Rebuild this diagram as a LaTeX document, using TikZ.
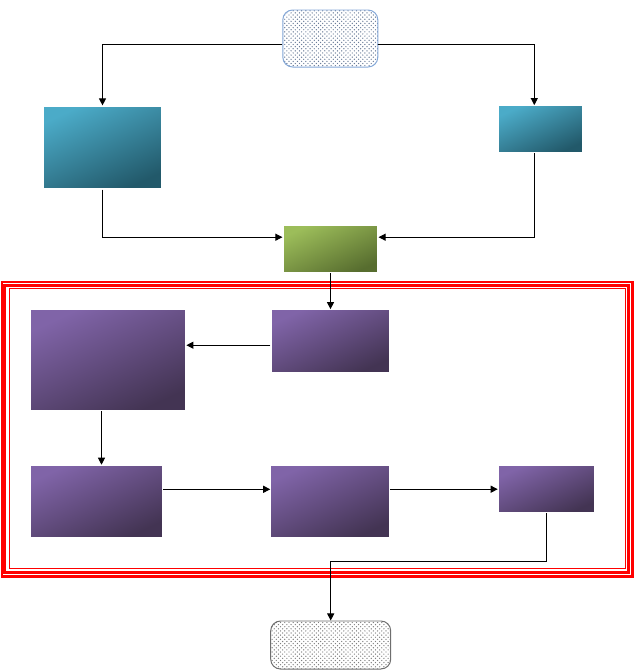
\documentclass[tikz,border=0pt]{standalone}
\usepackage[HTML]{xcolor}
\usepackage{tikz}
\usetikzlibrary{positioning, arrows.meta, patterns}

\definecolor{tealA}{HTML}{4BABC8}
\definecolor{tealB}{HTML}{22596A}
\definecolor{greenA}{HTML}{9CBD5A}
\definecolor{greenB}{HTML}{576D2F}
\definecolor{purpA}{HTML}{8064A8}
\definecolor{purpB}{HTML}{433453}
\definecolor{startline}{HTML}{84A8D8}
\definecolor{startdots}{HTML}{6A7C98}
\definecolor{endline}{HTML}{6E6E6E}

\begin{document}
\begin{tikzpicture}[x=0.025cm, y=-0.025cm,
  box/.style={draw=white, line width=0.8pt, inner sep=0pt},
  tealbox/.style={box, top color=tealA, bottom color=tealB, shading angle=25},
  greenbox/.style={box, top color=greenA, bottom color=greenB, shading angle=25},
  purplebox/.style={box, top color=purpA, bottom color=purpB, shading angle=25},
  termbox/.style={rounded corners=7pt, line width=0.7pt, inner sep=0pt,
    pattern=crosshatch dots},
  arr/.style={-{Triangle[length=5pt, width=5pt]}, line width=0.7pt},
  link/.style={line width=0.7pt}]
\useasboundingbox (0,0) rectangle (634,671);

% Start and end
\node[termbox, draw=startline, pattern color=startdots,
  minimum width=2.375cm, minimum height=1.425cm] (start) at (330.3,38.5) {};
\node[termbox, draw=endline, pattern color=gray,
  minimum width=3cm, minimum height=1.2cm] (finish) at (330.7,645) {};

% Upper boxes
\node[tealbox, minimum width=2.975cm, minimum height=2.075cm] (boxA) at (102.5,147.5) {};
\node[tealbox, minimum width=2.1cm, minimum height=1.175cm] (boxB) at (540.3,129.2) {};
\node[greenbox, minimum width=2.375cm, minimum height=1.175cm] (boxC) at (330.5,249.2) {};

% Frame
\draw[red, line width=1.5pt] (2,281.8) rectangle (632.5,576.5);
\draw[red, line width=2pt] (4.8,285.2) rectangle (628.2,572.2);
\draw[red, line width=0.9pt] (9.2,288.8) rectangle (625.2,568.8);

% Boxes inside the frame
\node[purplebox, minimum width=2.975cm, minimum height=1.575cm] (boxD) at (330.5,341.2) {};
\node[purplebox, minimum width=3.875cm, minimum height=2.525cm] (boxE) at (108.3,360.2) {};
\node[purplebox, minimum width=3.29cm, minimum height=1.8cm] (boxF) at (96.5,501.3) {};
\node[purplebox, minimum width=2.975cm, minimum height=1.8cm] (boxG) at (330.3,501.3) {};
\node[purplebox, minimum width=2.4cm, minimum height=1.175cm] (boxH) at (546.3,489.2) {};

% Connectors
\draw[arr] ([yshift=-0.15cm]start.west) -| (boxA.north);
\draw[arr] ([yshift=-0.15cm]start.east) -| ([xshift=-0.15cm]boxB.north);
\draw[arr] (boxA.south) |- ([yshift=0.3cm]boxC.west);
\draw[arr] ([xshift=-0.15cm]boxB.south) |- ([yshift=0.3cm]boxC.east);
\draw[arr] (boxC.south) -- (boxD.north);
\draw[arr] ([yshift=-0.1cm]boxD.west) -- ([yshift=-0.1cm]boxD.west -| boxE.east);
\draw[arr] ([xshift=-0.17cm]boxE.south) -- ([xshift=-0.17cm]boxE.south |- boxF.north);
\draw[arr] ([yshift=0.3cm]boxF.east) -- ([yshift=0.3cm]boxG.west);
\draw[arr] (boxH.west -| boxG.east) -- (boxH.west);
\draw[arr] (boxH.south) -- ++(0,48) -| (finish.north);
\end{tikzpicture}
\end{document}
